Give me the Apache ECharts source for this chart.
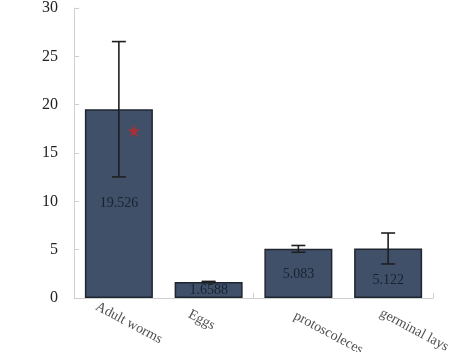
<!DOCTYPE html>
<html>
<head>
<meta charset="utf-8">
<script src="https://cdn.jsdelivr.net/npm/echarts@6/dist/echarts.min.js"></script>
<style>html,body{margin:0;padding:0;background:#fff}#c{width:473px;height:352px}</style>
</head>
<body>
<div id="c"></div>
<script>
var categories = ['Adult worms', 'Eggs', 'protoscoleces', 'germinal lays'];
var labels = ['19.526', '1.6588', '5.083', '5.122'];
var means = [19.526, 1.6588, 5.083, 5.122];
var errors = [7.0, 0.06, 0.35, 1.6];
var starPoint = [['Adult worms', 17.3]];
var yTicks = [0, 5, 10, 15, 20, 25, 30];

// layout-only offsets (in the rotated label frame) for the slanted category labels
var catLabelOffsets = [[20.6, 17.4], [4.1, 22.7], [42.9, 16.8], [38, 16]];
var valueLabelOffsets = [[0, 0], [0, 0], [0, 1], [0, 7]];

var chart = echarts.init(document.getElementById('c'));
var serif = '"Liberation Serif", "DejaVu Serif", serif';
chart.setOption({
  animation: false,
  grid: { left: 74, right: 40, top: 8, bottom: 54, outerBoundsMode: 'none', containLabel: false },
  xAxis: {
    type: 'category',
    data: categories,
    axisLine: { lineStyle: { color: '#cfcfcf', width: 1 } },
    axisTick: { show: true, inside: true, length: 5, lineStyle: { color: '#cfcfcf' } },
    axisLabel: { show: false }
  },
  yAxis: {
    type: 'value',
    min: yTicks[0], max: yTicks[yTicks.length - 1], interval: 5,
    splitLine: { show: false },
    axisLine: { show: true, lineStyle: { color: '#cfcfcf', width: 1 } },
    axisTick: { show: true, inside: true, length: 5, lineStyle: { color: '#cfcfcf' } },
    axisLabel: { color: '#222', fontFamily: serif, fontSize: 16, margin: 16 }
  },
  series: [
    {
      type: 'bar',
      data: means.map(function (m, i) { return { value: m, label: { offset: valueLabelOffsets[i] } }; }),
      barWidth: 68,
      itemStyle: { color: '#3f5068', borderColor: '#1f2630', borderWidth: 1.5 },
      label: {
        show: true, position: 'inside', color: '#1a2230', fontFamily: serif, fontSize: 14,
        formatter: function (p) { return labels[p.dataIndex]; }
      }
    },
    {
      type: 'custom',
      data: means.map(function (m, i) { return [i, m - errors[i], m + errors[i]]; }),
      renderItem: function (params, api) {
        var lo = api.coord([api.value(0), api.value(1)]);
        var hi = api.coord([api.value(0), api.value(2)]);
        var w = 7;
        var st = { stroke: '#1f1f1f', lineWidth: 1.6 };
        return {
          type: 'group',
          children: [
            { type: 'line', shape: { x1: hi[0], y1: hi[1], x2: lo[0], y2: lo[1] }, style: st },
            { type: 'line', shape: { x1: hi[0] - w, y1: hi[1], x2: hi[0] + w, y2: hi[1] }, style: st },
            { type: 'line', shape: { x1: lo[0] - w, y1: lo[1], x2: lo[0] + w, y2: lo[1] }, style: st }
          ]
        };
      },
      z: 5
    },
    {
      type: 'scatter',
      data: starPoint,
      symbol: 'path://M50,0 L61.8,35.3 L98.9,35.3 L69.1,57.1 L80.3,92.4 L50,70.6 L19.7,92.4 L30.9,57.1 L1.1,35.3 L38.2,35.3 Z',
      symbolSize: 13,
      symbolOffset: [15, 0],
      itemStyle: { color: '#c0282d' },
      z: 6
    },
    {
      type: 'scatter',
      clip: false,
      silent: true,
      data: categories.map(function (c, i) {
        return { value: [c, 0], label: { offset: catLabelOffsets[i] } };
      }),
      symbolSize: 1,
      itemStyle: { color: 'rgba(0,0,0,0)' },
      label: {
        show: true, position: 'inside', rotate: -28, align: 'center', verticalAlign: 'middle',
        color: '#222', fontFamily: serif, fontSize: 14,
        formatter: function (p) { return categories[p.dataIndex]; }
      },
      z: 7
    }
  ]
});
</script>
</body>
</html>
